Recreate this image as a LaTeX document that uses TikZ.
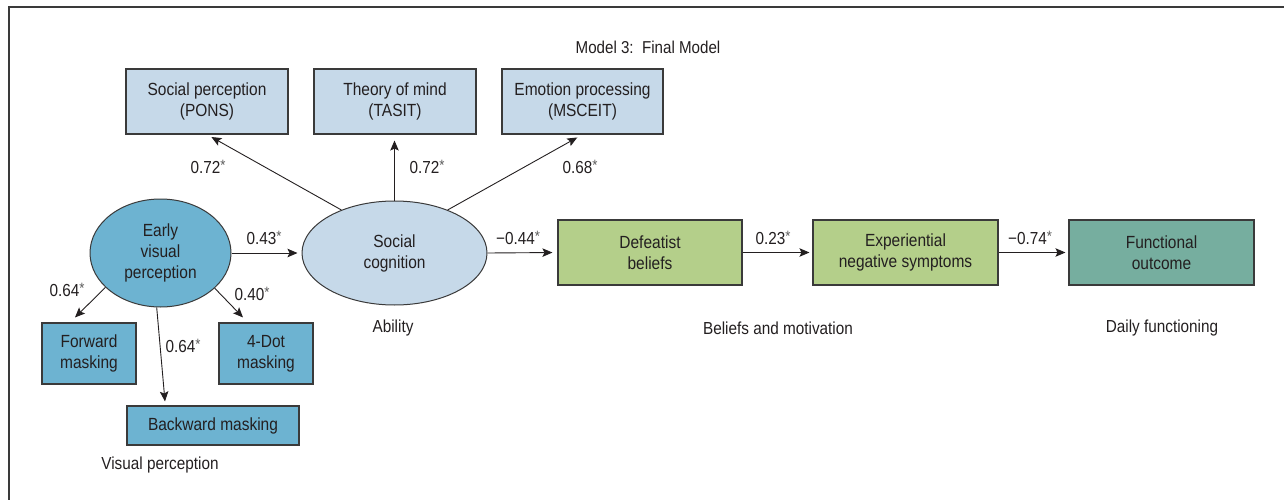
\documentclass[tikz,border=0pt]{standalone}
\usepackage{fontspec}
\setmainfont[FakeStretch=0.88]{Liberation Sans}
\usetikzlibrary{arrows.meta,shapes.geometric}
\definecolor{evpblue}{HTML}{6DB3D1}
\definecolor{lightblue}{HTML}{C6D9E9}
\definecolor{boxgreen}{HTML}{B4CF8A}
\definecolor{boxteal}{HTML}{76AE9F}
\definecolor{edgegray}{HTML}{3A3A3A}
\definecolor{txt}{HTML}{231F20}
\definecolor{stargray}{HTML}{5A5A5A}
\newcommand{\st}{{\color{stargray}\raisebox{3.5pt}{\fontsize{15}{15}\selectfont *}}}
\begin{document}
\begin{tikzpicture}[x=1pt,y=-1pt,
  every node/.style={text=txt,font=\fontsize{17.6}{21}\selectfont},
  box/.style={draw=edgegray,line width=1.1pt,align=center,inner sep=0pt},
  ell/.style={ellipse,draw=edgegray,line width=1.0pt,align=center,inner sep=0pt},
  conn/.style={draw=txt,line width=0.9pt,-{Stealth[length=10pt,width=8.5pt,inset=2pt]}},
  lab/.style={font=\fontsize{17.4}{20}\selectfont,inner sep=0pt},
  grp/.style={font=\fontsize{17.4}{20}\selectfont,inner sep=0pt}]
\useasboundingbox (0,0) rectangle (1284,500);
% frame
\draw[edgegray,line width=2pt] (9,500) -- (9,7) -- (1284,7);
% title
\node[font=\fontsize{17.2}{20}\selectfont] (title) at (648,47) {Model 3:\ \ Final Model};
% top boxes
\node[box,fill=lightblue,minimum width=162pt,minimum height=65pt] (sp) at (207,101.5) {Social perception\\(PONS)};
\node[box,fill=lightblue,minimum width=162pt,minimum height=65pt] (tom) at (395,101.5) {Theory of mind\\(TASIT)};
\node[box,fill=lightblue,minimum width=161pt,minimum height=65pt] (ep) at (582.5,101.5) {Emotion processing\\(MSCEIT)};
% ellipses
\node[ell,fill=evpblue,minimum width=141pt,minimum height=108pt] (evp) at (160.5,253) {Early\\visual\\perception};
\node[ell,fill=lightblue,minimum width=185pt,minimum height=104pt] (sc) at (394.5,253) {Social\\cognition};
% right boxes
\node[box,fill=boxgreen,minimum width=184pt,minimum height=65pt] (db) at (650,252.5) {Defeatist\\beliefs};
\node[box,fill=boxgreen,minimum width=185pt,minimum height=65pt] (ens) at (905.5,252.5) {Experiential\\negative symptoms};
\node[box,fill=boxteal,minimum width=185pt,minimum height=65pt] (fo) at (1161.5,252.5) {Functional\\outcome};
% masking boxes
\node[box,fill=evpblue,minimum width=94pt,minimum height=61pt] (fm) at (89,353.5) {Forward\\masking};
\node[box,fill=evpblue,minimum width=94pt,minimum height=61pt] (dm) at (266,353.5) {4-Dot\\masking};
\node[box,fill=evpblue,minimum width=172pt,minimum height=39pt] (bm) at (213,425.5) {Backward masking};
% connectors
\draw[conn,shorten >=5pt] (sc.141) -- (sp.south);
\draw[conn,shorten >=6pt] (sc.north) -- (sc.north |- tom.south);
\draw[conn,shorten >=6pt] (sc.39) -- (ep.south);
\draw[conn,shorten >=4pt] (evp.east) -- (sc.west);
\draw[conn,shorten >=5pt] (sc.east) -- (db.west);
\draw[conn,shorten >=3pt] (db.east) -- (ens.west);
\draw[conn,shorten >=3pt] (ens.east) -- (fo.west);
\draw[conn] (evp.212) -- ([xshift=-14pt,yshift=5pt]fm.north);
\draw[conn] (evp.-33) -- ([xshift=-23pt,yshift=5pt]dm.north);
\draw[conn] (evp.266) -- ([xshift=-48pt,yshift=4pt]bm.north);
% coefficient labels
\node[lab] (l1) at (208,167) {0.72\st};
\node[lab] (l2) at (427,167) {0.72\st};
\node[lab] (l3) at (580,167) {0.68\st};
\node[lab] (l4) at (264,238) {0.43\st};
\node[lab] (l5) at (518,238) {−0.44\st};
\node[lab] (l6) at (773,238) {0.23\st};
\node[lab] (l7) at (1030,238) {−0.74\st};
\node[lab] (l8) at (67,290) {0.64\st};
\node[lab] (l9) at (252,294) {0.40\st};
\node[lab] (l10) at (183,346) {0.64\st};
% group labels
\node[grp] (g1) at (160,465) {Visual perception};
\node[grp] (g2) at (393,328) {Ability};
\node[grp] (g3) at (778,328) {Beliefs and motivation};
\node[grp] (g4) at (1162,328) {Daily functioning};
\end{tikzpicture}
\end{document}
